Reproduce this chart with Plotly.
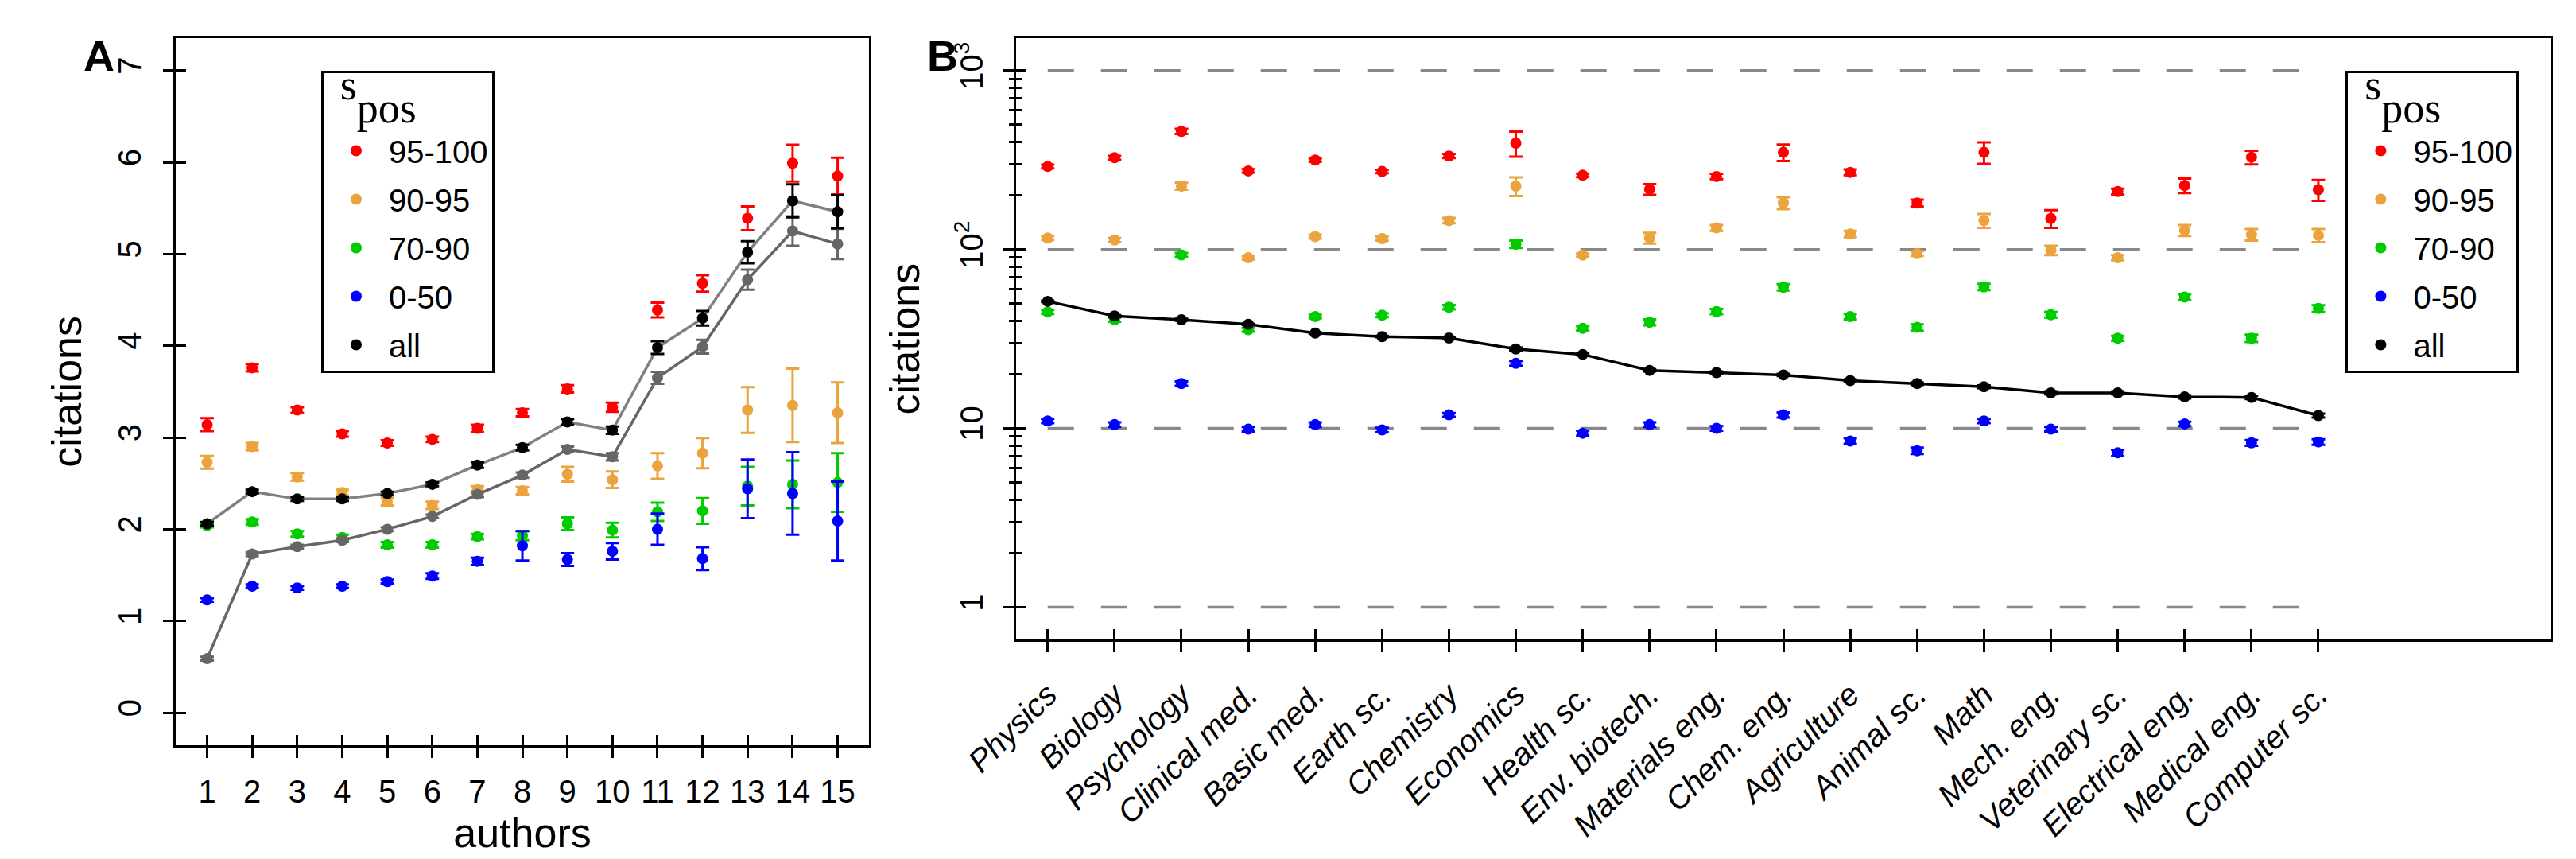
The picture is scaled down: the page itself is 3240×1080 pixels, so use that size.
import plotly.graph_objects as go

W, H = 3240, 1080

# ---------------- Panel A data ----------------
authors = list(range(1, 16))
a_red = [3.14, 3.76, 3.30, 3.04, 2.94, 2.98, 3.10, 3.27, 3.53, 3.33, 4.39, 4.68, 5.39, 5.99, 5.85]
a_red_err = [0.07, 0.04, 0.03, 0.03, 0.03, 0.03, 0.04, 0.04, 0.04, 0.05, 0.08, 0.09, 0.13, 0.20, 0.20]
a_orange = [2.73, 2.90, 2.57, 2.40, 2.30, 2.26, 2.43, 2.42, 2.60, 2.54, 2.69, 2.83, 3.30, 3.35, 3.27]
a_orange_err = [0.07, 0.04, 0.04, 0.03, 0.04, 0.04, 0.04, 0.04, 0.08, 0.09, 0.14, 0.165, 0.25, 0.40, 0.33]
a_green = [2.04, 2.08, 1.95, 1.91, 1.83, 1.83, 1.92, 1.93, 2.06, 1.99, 2.19, 2.20, 2.47, 2.49, 2.51]
a_green_err = [0.02, 0.03, 0.03, 0.03, 0.03, 0.03, 0.03, 0.05, 0.07, 0.08, 0.10, 0.14, 0.21, 0.26, 0.32]
a_blue = [1.23, 1.38, 1.36, 1.38, 1.43, 1.49, 1.65, 1.82, 1.67, 1.76, 2.00, 1.68, 2.44, 2.39, 2.09]
a_blue_err = [0.02, 0.02, 0.02, 0.02, 0.02, 0.03, 0.04, 0.16, 0.07, 0.09, 0.17, 0.125, 0.32, 0.45, 0.43]
a_all = [2.06, 2.41, 2.33, 2.33, 2.39, 2.49, 2.70, 2.89, 3.17, 3.08, 3.98, 4.30, 5.02, 5.58, 5.46]
a_all_err = [0.02, 0.02, 0.02, 0.02, 0.02, 0.02, 0.03, 0.03, 0.03, 0.04, 0.07, 0.08, 0.12, 0.18, 0.18]
a_low = [0.59, 1.73, 1.81, 1.88, 2.00, 2.14, 2.38, 2.59, 2.87, 2.79, 3.65, 3.99, 4.72, 5.25, 5.11]
a_low_err = [0.02, 0.02, 0.02, 0.02, 0.02, 0.02, 0.03, 0.03, 0.03, 0.04, 0.065, 0.075, 0.11, 0.16, 0.165]
a_yticks = [0, 1, 2, 3, 4, 5, 6, 7]

# ---------------- Panel B data ----------------
fields = ["Physics", "Biology", "Psychology", "Clinical med.", "Basic med.", "Earth sc.",
          "Chemistry", "Economics", "Health sc.", "Env. biotech.", "Materials eng.",
          "Chem. eng.", "Agriculture", "Animal sc.", "Math", "Mech. eng.",
          "Veterinary sc.", "Electrical eng.", "Medical eng.", "Computer sc."]
b_red = [291, 326, 457, 275, 316, 273, 333, 393, 260, 217, 256, 349, 270, 182, 349, 149, 211, 228, 328, 216]
b_red_err = [7, 8, 15, 6, 7, 6, 9, 63, 6, 15, 9, 37, 10, 8, 48, 17, 8, 21, 29, 29]
b_orange = [116, 113, 226, 90, 118, 115, 145, 226, 93, 116, 132, 182, 122, 95, 145, 99, 90, 128, 121, 120]
b_orange_err = [3, 3, 10, 2, 3, 3, 5, 27, 2, 8, 5, 14, 5, 3, 13, 6, 3, 9, 9, 10]
b_green = [44.8, 40.5, 93.3, 35.6, 42.2, 42.9, 47.6, 107, 36.3, 39.2, 45.0, 61.5, 42.2, 36.7, 61.8, 43.2, 31.9, 54.2, 31.9, 46.8]
b_green_err = [1.2, 1.0, 2.5, 0.9, 1.0, 1.0, 1.3, 5.0, 1.0, 1.5, 1.5, 2.5, 1.5, 1.5, 2.5, 1.5, 1.0, 2.0, 1.5, 2.0]
b_blue = [11.0, 10.5, 17.8, 9.9, 10.5, 9.8, 11.9, 23.1, 9.4, 10.5, 10.0, 11.9, 8.5, 7.5, 11.0, 9.9, 7.3, 10.6, 8.3, 8.4]
b_blue_err = [0.3, 0.3, 0.5, 0.3, 0.3, 0.3, 0.3, 0.7, 0.3, 0.3, 0.3, 0.4, 0.3, 0.3, 0.3, 0.3, 0.3, 0.3, 0.3, 0.3]
b_all = [51.3, 42.5, 40.5, 38.2, 34.1, 32.6, 32.0, 27.8, 25.9, 21.1, 20.5, 19.9, 18.5, 17.8, 17.1, 15.8, 15.8, 15.0, 14.9, 11.8]
b_all_err = [0.5, 0.4, 0.5, 0.3, 0.3, 0.3, 0.3, 0.5, 0.3, 0.3, 0.3, 0.3, 0.3, 0.3, 0.3, 0.3, 0.3, 0.3, 0.3, 0.3]
b_grid = [1, 10, 100, 1000]
b_ytick_vals = [1, 10, 100, 1000]
b_ytick_text = ["1", "10", "10<sup>2</sup>", "10<sup>3</sup>"]
b_minor = [2, 3, 4, 5, 6, 7, 8, 9, 20, 30, 40, 50, 60, 70, 80, 90, 200, 300, 400, 500, 600, 700, 800, 900]

groups = ["95-100", "90-95", "70-90", "0-50"]
colors = ["#FF0000", "#EAA33D", "#00CC00", "#0000FF"]
legend_title = ('&nbsp;&nbsp;&nbsp;<span style="font-size:54px">s</span>'
                '<span style="font-size:54px;baseline-shift:-29px">pos</span><br>&nbsp;')

FONT = "Liberation Sans, Arial, sans-serif"
SERIF = "Liberation Serif, Times New Roman, serif"
MS = 14
EW = 3
CAP = 8.5

fig = go.Figure()
bx = list(range(1, len(fields) + 1))

# dashed reference lines in panel B
for g in b_grid:
    fig.add_trace(go.Scatter(x=[bx[0], bx[-1]], y=[g, g], mode="lines", xaxis="x2", yaxis="y2",
                             line=dict(color="#888888", width=3.5, dash="33px,34px"),
                             showlegend=False, hoverinfo="skip"))

# panel A coloured series
for name, col, vals, err in zip(groups, colors,
                                [a_red, a_orange, a_green, a_blue],
                                [a_red_err, a_orange_err, a_green_err, a_blue_err]):
    fig.add_trace(go.Scatter(x=authors, y=vals, mode="markers", name=name,
                             marker=dict(color=col, size=MS),
                             error_y=dict(type="data", array=err, color=col, thickness=EW, width=CAP),
                             xaxis="x", yaxis="y", legend="legend", legendgroup="A" + name))
# lower gray series
fig.add_trace(go.Scatter(x=authors, y=a_low, mode="lines+markers", showlegend=False,
                         line=dict(color="#666666", width=3.5),
                         marker=dict(color="#666666", size=MS),
                         error_y=dict(type="data", array=a_low_err, color="#666666", thickness=EW, width=CAP),
                         xaxis="x", yaxis="y"))
# all: line + markers
fig.add_trace(go.Scatter(x=authors, y=a_all, mode="lines", showlegend=False,
                         line=dict(color="#808080", width=3.5), xaxis="x", yaxis="y"))
fig.add_trace(go.Scatter(x=authors, y=a_all, mode="markers", name="all",
                         marker=dict(color="black", size=MS),
                         error_y=dict(type="data", array=a_all_err, color="black", thickness=EW, width=CAP),
                         xaxis="x", yaxis="y", legend="legend", legendgroup="Aall"))

# panel B coloured series
for name, col, vals, err in zip(groups, colors,
                                [b_red, b_orange, b_green, b_blue],
                                [b_red_err, b_orange_err, b_green_err, b_blue_err]):
    fig.add_trace(go.Scatter(x=bx, y=vals, mode="markers", name=name,
                             marker=dict(color=col, size=MS),
                             error_y=dict(type="data", array=err, color=col, thickness=EW, width=CAP),
                             xaxis="x2", yaxis="y2", legend="legend2", legendgroup="B" + name))
fig.add_trace(go.Scatter(x=bx, y=b_all, mode="lines", showlegend=False,
                         line=dict(color="black", width=3.5), xaxis="x2", yaxis="y2"))
fig.add_trace(go.Scatter(x=bx, y=b_all, mode="markers", name="all",
                         marker=dict(color="black", size=MS),
                         error_y=dict(type="data", array=b_all_err, color="black", thickness=EW, width=CAP),
                         xaxis="x2", yaxis="y2", legend="legend2", legendgroup="Ball"))

# invisible traces for overlay (inside-tick) axes
fig.add_trace(go.Scatter(x=[None], y=[None], xaxis="x3", yaxis="y3", showlegend=False, hoverinfo="skip"))
fig.add_trace(go.Scatter(x=[None], y=[None], xaxis="x4", yaxis="y4", showlegend=False, hoverinfo="skip"))

dA_x = [148 / W, 1039 / W]
dA_y = [1 - 928.5 / H, 1 - 40.3 / H]
dB_x = [1228 / W, 3199 / W]
dB_y = [1 - 796 / H, 1 - 40.3 / H]
rA_x = [0.3, 15.7]
rA_y = [-0.35, 7.35]
rB_x = [0.53, 23.47]
rB_y = [-0.18, 3.18]

tickfont = dict(family=FONT, size=40, color="black")
common = dict(showgrid=False, zeroline=False, ticks="outside", ticklen=13, tickwidth=3, tickcolor="black",
              showline=True, linewidth=3, linecolor="black", mirror=True, tickfont=tickfont)
inner = dict(showgrid=False, zeroline=False, ticks="inside", ticklen=13, tickwidth=3, tickcolor="black",
             showline=False, showticklabels=False)

legend_common = dict(y=1 - 81 / H, xanchor="left", yanchor="top", bordercolor="black", borderwidth=3,
                     bgcolor="white", font=dict(family=FONT, size=40), tracegroupgap=6, itemwidth=72,
                     title=dict(text=legend_title, font=dict(family=SERIF, size=25)))

fig.update_layout(
    width=W, height=H, margin=dict(l=0, r=0, t=0, b=0),
    paper_bgcolor="white", plot_bgcolor="white",
    font=dict(family=FONT, color="black"),
    xaxis=dict(domain=dA_x, range=rA_x, anchor="y", tickmode="array", tickvals=authors,
               ticklabelstandoff=8,
               title=dict(text="authors", font=dict(family=FONT, size=52), standoff=14), **common),
    yaxis=dict(domain=dA_y, range=rA_y, anchor="x", tickmode="array", tickvals=a_yticks, tickangle=-90,
               ticklabelstandoff=12,
               title=dict(text="citations", font=dict(family=FONT, size=52), standoff=22), **common),
    xaxis3=dict(domain=dA_x, range=rA_x, overlaying="x", anchor="y3", tickmode="array", tickvals=authors, **inner),
    yaxis3=dict(domain=dA_y, range=rA_y, overlaying="y", anchor="x3", tickmode="array", tickvals=a_yticks, **inner),
    xaxis2=dict(domain=dB_x, range=rB_x, anchor="y2", tickmode="array", tickvals=bx, ticktext=fields,
                tickangle=-45, ticklabelstandoff=14,
                **{**common, "tickfont": dict(family=FONT, size=40, color="black", style="italic")}),
    yaxis2=dict(domain=dB_y, range=rB_y, type="log", anchor="x2", tickmode="array",
                tickvals=b_ytick_vals, ticktext=b_ytick_text, tickangle=-90, ticklabelstandoff=10,
                minor=dict(tickmode="array", tickvals=b_minor, ticks="outside", ticklen=6.5, tickwidth=3,
                           tickcolor="black", showgrid=False),
                title=dict(text="citations", font=dict(family=FONT, size=52), standoff=22), **common),
    xaxis4=dict(domain=dB_x, range=rB_x, overlaying="x2", anchor="y4", tickmode="array", tickvals=bx, **inner),
    yaxis4=dict(domain=dB_y, range=rB_y, type="log", overlaying="y2", anchor="x4", tickmode="array",
                tickvals=b_ytick_vals,
                minor=dict(tickmode="array", tickvals=b_minor, ticks="inside", ticklen=6.5, tickwidth=3,
                           tickcolor="black", showgrid=False), **inner),
    legend=dict(x=335 / W, **legend_common),
    legend2=dict(x=2936 / W, **legend_common),
    annotations=[
        dict(text="<b>A</b>", x=28 / W, y=1 - 62 / H, xref="paper", yref="paper", xanchor="left",
             yanchor="middle", showarrow=False, font=dict(family=FONT, size=54, color="black")),
        dict(text="<b>B</b>", x=1111 / W, y=1 - 62 / H, xref="paper", yref="paper", xanchor="left",
             yanchor="middle", showarrow=False, font=dict(family=FONT, size=54, color="black")),
    ],
)

fig.write_html("out.html")
